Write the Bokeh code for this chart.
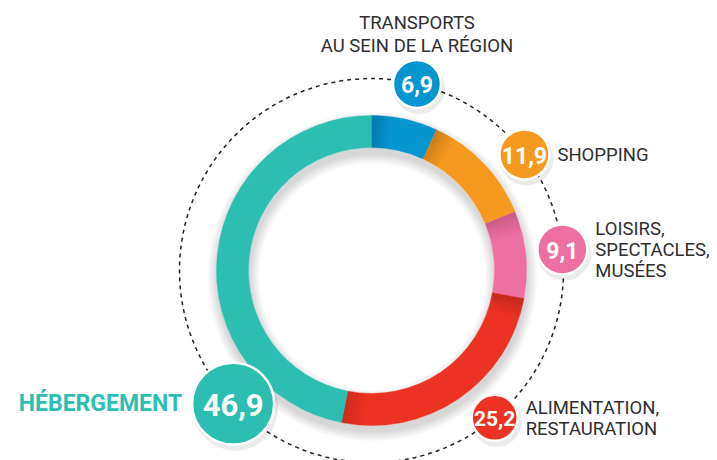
import math
from bokeh.plotting import figure
from bokeh.models import Range1d, ColumnDataSource
from bokeh.core.properties import value
from bokeh.embed import file_html
from bokeh.resources import INLINE

# ---- data ----
categories = ["TRANSPORTS\nAU SEIN DE LA RÉGION", "SHOPPING",
              "LOISIRS,\nSPECTACLES,\nMUSÉES", "ALIMENTATION,\nRESTAURATION",
              "HÉBERGEMENT"]
values = [6.9, 11.9, 9.1, 25.2, 46.9]
value_labels = [f"{v:.1f}".replace(".", ",") for v in values]

# ---- style / layout ----
colors = ["#0595CF", "#F6991F", "#EE6FA1", "#EC3223", "#2CBEB1"]
bubble_angles = [13.7, 52.8, 83.7, 140.1, 226.1]      # clockwise from top, deg
bubble_radii = [24, 25, 25, 23, 41]
bubble_font = ["23px", "23px", "23px", "21px", "31px"]
label_side = ["top", "right", "right", "right", "left"]
label_color = ["#2e2e2e", "#2e2e2e", "#2e2e2e", "#2e2e2e", "#2CBEB1"]
label_size = ["18.5px", "18.5px", "18.5px", "18.5px", "23px"]
label_weight = ["normal", "normal", "normal", "normal", "bold"]
shade_start = [True, True, True, True, False]
shade_end = [False, False, False, True, False]

W, H = 717, 460
CX, CY = 371, 190
R_OUT, R_IN = 155, 123
R_DASH = 192
FONT = "Roboto"

p = figure(width=W, height=H, x_range=Range1d(0, W), y_range=Range1d(0, H),
           output_backend="svg", toolbar_location=None, min_border=0,
           x_axis_location=None, y_axis_location=None)
p.grid.visible = False
p.outline_line_color = None
p.background_fill_color = "white"
p.border_fill_color = "white"

# dashed guide circle
p.circle(x=[CX], y=[CY], radius=R_DASH, fill_color=None, line_color="#222222",
         line_width=1.5, line_dash="4 4")

# soft drop shadow of the ring
for k in range(1, 11):
    p.annular_wedge(x=[CX + 1], y=[CY - 6], inner_radius=R_IN - k,
                    outer_radius=R_OUT + k, start_angle=0, end_angle=2 * math.pi,
                    fill_color="#000000", fill_alpha=0.016, line_color=None)
p.annular_wedge(x=[CX], y=[CY], inner_radius=R_IN, outer_radius=R_OUT,
                start_angle=0, end_angle=2 * math.pi, fill_color="white",
                line_color=None)

# ring segments
total = sum(values)
cum = 0.0
starts, ends = [], []
for v in values:
    a0 = cum / total * 360.0
    cum += v
    a1 = cum / total * 360.0
    starts.append(a0)
    ends.append(a1)

def to_bk(deg):
    return math.radians(90.0 - deg)

src = ColumnDataSource(dict(
    start=[to_bk(e) for e in ends], end=[to_bk(s) for s in starts], color=colors))
p.annular_wedge(x=CX, y=CY, inner_radius=R_IN, outer_radius=R_OUT,
                start_angle="start", end_angle="end", fill_color="color",
                line_color="color", line_width=0.5, source=src)

# fold shading near segment boundaries
N = 10
for i in range(len(values)):
    if shade_start[i]:
        for j in range(N):
            a0 = starts[i] + j * 0.8
            p.annular_wedge(x=[CX], y=[CY], inner_radius=R_IN, outer_radius=R_OUT,
                            start_angle=to_bk(a0 + 0.8), end_angle=to_bk(a0),
                            fill_color="#000000", fill_alpha=0.16 * (1 - j / N),
                            line_color=None)
    if shade_end[i]:
        for j in range(N):
            a1 = ends[i] - j * 0.8
            p.annular_wedge(x=[CX], y=[CY], inner_radius=R_IN, outer_radius=R_OUT,
                            start_angle=to_bk(a1), end_angle=to_bk(a1 - 0.8),
                            fill_color="#000000", fill_alpha=0.12 * (1 - j / N),
                            line_color=None)

# bubbles
bx = [CX + R_DASH * math.sin(math.radians(a)) for a in bubble_angles]
by = [CY + R_DASH * math.cos(math.radians(a)) for a in bubble_angles]
p.circle(x=[x + 2 for x in bx], y=[y - 4 for y in by],
         radius=[r + 2 for r in bubble_radii], fill_color="#000000",
         fill_alpha=0.08, line_color=None)
p.circle(x=bx, y=by, radius=bubble_radii, fill_color=colors,
         line_color="white", line_width=2.5)
p.text(x=bx, y=[y - 1 for y in by], text=value_labels, text_color="white",
       text_font=value(FONT), text_font_style="bold",
       text_font_size=bubble_font, text_align="center", text_baseline="middle")

# category labels
LINE_H = 21
lx, ly, lt, la, lc, ls, lw = [], [], [], [], [], [], []
for i, cat in enumerate(categories):
    lines = cat.split("\n")
    n = len(lines)
    r = bubble_radii[i]
    for k, line in enumerate(lines):
        if label_side[i] == "top":
            x = bx[i]
            y = by[i] + 38 + (n - 1 - k) * 23
            align = "center"
        elif label_side[i] == "right":
            x = bx[i] + r + 8
            y = by[i] + ((n - 1) / 2 - k) * LINE_H - 1
            align = "left"
        else:
            x = bx[i] - r - 10
            y = by[i] + ((n - 1) / 2 - k) * LINE_H
            align = "right"
        lx.append(x); ly.append(y); lt.append(line); la.append(align)
        lc.append(label_color[i]); ls.append(label_size[i]); lw.append(label_weight[i])

lsrc = ColumnDataSource(dict(x=lx, y=ly, text=lt, align=la, color=lc, size=ls, weight=lw))
p.text(x="x", y="y", text="text", text_align="align", text_color="color",
       text_font_size="size", text_font_style="weight", text_font=value(FONT),
       text_baseline="middle", source=lsrc)

open("out.html", "w").write(file_html(p, INLINE))
